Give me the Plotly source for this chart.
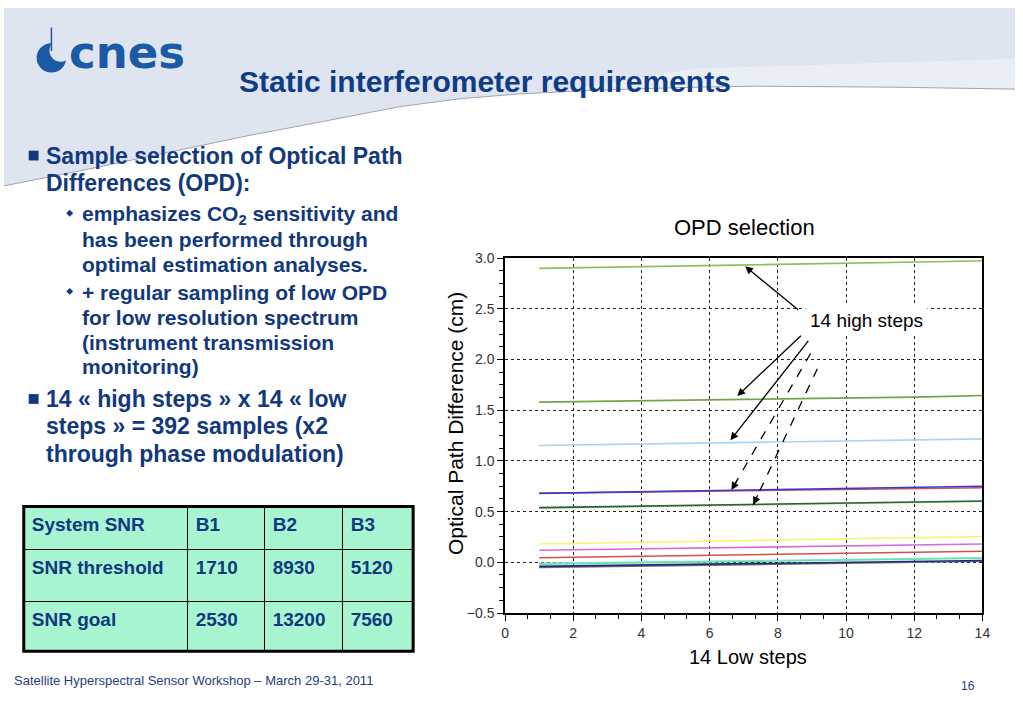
import plotly.graph_objects as go

W, H = 1023, 708

# ---------------- data ----------------
low_steps = [1, 2, 3, 4, 5, 6, 7, 8, 9, 10, 11, 12, 13, 14]

opd_high_01 = [2.900, 2.905, 2.911, 2.918, 2.922, 2.926, 2.930, 2.936, 2.941, 2.947, 2.953, 2.960, 2.967, 2.975]
opd_high_02 = [1.580, 1.584, 1.588, 1.592, 1.597, 1.601, 1.605, 1.609, 1.614, 1.619, 1.624, 1.630, 1.637, 1.645]
opd_high_03 = [1.152, 1.157, 1.161, 1.166, 1.170, 1.175, 1.179, 1.184, 1.189, 1.194, 1.199, 1.205, 1.211, 1.218]
opd_high_04 = [0.680, 0.684, 0.689, 0.694, 0.698, 0.703, 0.707, 0.711, 0.715, 0.719, 0.723, 0.727, 0.732, 0.736]
opd_high_05 = [0.682, 0.687, 0.692, 0.697, 0.702, 0.707, 0.712, 0.717, 0.722, 0.728, 0.734, 0.740, 0.745, 0.750]
opd_high_06 = [0.535, 0.540, 0.544, 0.549, 0.553, 0.558, 0.562, 0.567, 0.572, 0.577, 0.582, 0.588, 0.594, 0.600]
opd_high_07 = [0.540, 0.545, 0.549, 0.554, 0.559, 0.564, 0.568, 0.573, 0.578, 0.583, 0.588, 0.594, 0.600, 0.605]
opd_high_08 = [0.180, 0.186, 0.191, 0.197, 0.202, 0.208, 0.213, 0.219, 0.225, 0.230, 0.236, 0.242, 0.248, 0.254]
opd_high_09 = [0.119, 0.124, 0.128, 0.133, 0.138, 0.143, 0.147, 0.152, 0.156, 0.161, 0.165, 0.170, 0.175, 0.180]
opd_high_10 = [0.045, 0.050, 0.055, 0.060, 0.065, 0.070, 0.075, 0.079, 0.084, 0.089, 0.094, 0.099, 0.104, 0.109]
opd_high_11 = [-0.010, -0.006, -0.002, 0.002, 0.006, 0.010, 0.014, 0.018, 0.022, 0.026, 0.030, 0.035, 0.040, 0.045]
opd_high_12 = [-0.018, -0.014, -0.010, -0.006, -0.002, 0.002, 0.006, 0.010, 0.014, 0.018, 0.023, 0.028, 0.034, 0.040]
opd_high_13 = [-0.050, -0.046, -0.042, -0.037, -0.033, -0.028, -0.024, -0.019, -0.015, -0.010, -0.005, 0.000, 0.005, 0.010]
opd_high_14 = [-0.040, -0.036, -0.031, -0.027, -0.022, -0.018, -0.013, -0.009, -0.004, 0.000, 0.005, 0.009, 0.014, 0.018]

table_header = ["System SNR", "B1", "B2", "B3"]
snr_rows = ["SNR threshold", "SNR goal"]
snr_b1 = [1710, 2530]
snr_b2 = [8930, 13200]
snr_b3 = [5120, 7560]

# ---------------- styles ----------------
series = [opd_high_01, opd_high_02, opd_high_03, opd_high_04, opd_high_05, opd_high_06, opd_high_07,
          opd_high_08, opd_high_09, opd_high_10, opd_high_11, opd_high_12, opd_high_13, opd_high_14]
colors = ["#8cc05a", "#78a24a", "#a8d4f4", "#c8506a", "#3a3ac8", "#98e080", "#2e5e3c",
          "#f6f66a", "#d070e0", "#d05050", "#80e8f0", "#70e0a0", "#707070", "#202a80"]

NAVY = "#12387e"
HEADER = "#dee5f0"
FONT = "Liberation Sans, Arial, sans-serif"


def px(x):
    return x / W


def py(y):
    return 1 - y / H


fig = go.Figure()

for vals, col in zip(series, colors):
    fig.add_trace(go.Scatter(x=low_steps, y=vals, mode="lines",
                             line=dict(color=col, width=1.6), hoverinfo="skip",
                             showlegend=False, xaxis="x", yaxis="y"))

# table
cell_cols = [
    ["<b>%s</b>" % r for r in snr_rows],
    ["<b>%s</b>" % v for v in snr_b1],
    ["<b>%s</b>" % v for v in snr_b2],
    ["<b>%s</b>" % v for v in snr_b3],
]
fig.add_trace(go.Table(
    domain=dict(x=[px(20), px(414)], y=[py(658), py(510)]),
    columnwidth=[166, 78, 79, 71],
    header=dict(values=["<b>%s</b>" % h for h in table_header],
                fill_color="#a8f5d2", line=dict(color="black", width=1.5),
                align="left", height=43,
                font=dict(family=FONT, size=19, color=NAVY)),
    cells=dict(values=cell_cols, fill_color="#a8f5d2",
               line=dict(color="black", width=1.5), align="left", height=52,
               font=dict(family=FONT, size=19, color=NAVY)),
))

shapes = []
# header background
curve = [(0, 182), (80, 166), (160, 149), (250, 130), (313, 118), (400, 101), (460, 93),
         (520, 88), (600, 84), (700, 81), (760, 80), (900, 81), (1023, 83)]
top = "M %.5f,%.5f L %.5f,%.5f " % (px(0), py(0), px(1023), py(0))
path = top + " ".join("L %.5f,%.5f" % (px(x), py(y)) for x, y in reversed(curve)) + " Z"
shapes.append(dict(type="path", xref="paper", yref="paper", path=path,
                   fillcolor=HEADER, line=dict(width=0), layer="below"))
# lighter band near the title line
band = [(560, 86), (700, 62), (1023, 52), (1023, 83), (760, 80), (600, 84)]
shapes.append(dict(type="path", xref="paper", yref="paper",
                   path="M " + " L ".join("%.5f,%.5f" % (px(x), py(y)) for x, y in band) + " Z",
                   fillcolor="#eaeef5", line=dict(width=0), layer="below"))
line_path = "M " + " L ".join("%.5f,%.5f" % (px(x), py(y)) for x, y in curve)
shapes.append(dict(type="path", xref="paper", yref="paper", path=line_path,
                   line=dict(color="#a0a6b0", width=1), layer="below"))

# logo crescent
shapes.append(dict(type="circle", xref="paper", yref="paper",
                   x0=px(33), x1=px(63), y0=py(66), y1=py(36),
                   fillcolor="#1b5aa5", line=dict(width=0), layer="above"))
shapes.append(dict(type="circle", xref="paper", yref="paper",
                   x0=px(46), x1=px(69), y0=py(55), y1=py(32),
                   fillcolor=HEADER, line=dict(width=0), layer="above"))
shapes.append(dict(type="line", xref="paper", yref="paper",
                   x0=px(48), x1=px(48), y0=py(20), y1=py(44),
                   line=dict(color="#1b5aa5", width=1.5), layer="above"))

# bullets
for yc in (151, 400):
    shapes.append(dict(type="rect", xref="paper", yref="paper",
                       x0=px(25), x1=px(35), y0=py(yc + 5), y1=py(yc - 5),
                       fillcolor=NAVY, line=dict(width=0)))
for yc in (210, 290):
    shapes.append(dict(type="path", xref="paper", yref="paper",
                       path="M %.5f,%.5f L %.5f,%.5f L %.5f,%.5f L %.5f,%.5f Z" % (
                           px(63), py(yc), px(66.5), py(yc - 3.5), px(70), py(yc), px(66.5), py(yc + 3.5)),
                       fillcolor=NAVY, line=dict(width=0)))

# table outer border
shapes.append(dict(type="rect", xref="paper", yref="paper",
                   x0=px(20), x1=px(414), y0=py(658), y1=py(510),
                   line=dict(color="black", width=3), layer="above"))

# dashed arrow bodies
dashed = [((8.96, 2.06), (6.64, 0.714)), ((9.16, 1.91), (7.28, 0.569))]
for (tx, ty), (hx, hy) in dashed:
    shapes.append(dict(type="line", xref="x", yref="y", x0=tx, y0=ty, x1=hx, y1=hy,
                       line=dict(color="black", width=1.3, dash="dash"), layer="above"))

annotations = []


def text(t, x, y, size, color=NAVY, xanchor="left", bold=False, family=FONT, **kw):
    if bold:
        t = "<b>%s</b>" % t
    annotations.append(dict(text=t, x=px(x), y=py(y), xref="paper", yref="paper",
                            xanchor=xanchor, yanchor="middle", showarrow=False,
                            font=dict(family=family, size=size, color=color), **kw))


text("cnes", 64, 46, 45, color="#1b5aa5", bold=True, family="DejaVu Sans, sans-serif")
text("Static interferometer requirements", 236, 75, 30, color="#0f3c86", bold=True)

text("Sample selection of Optical Path", 40, 151, 23, bold=True)
text("Differences (OPD):", 40, 179, 23, bold=True)
text("emphasizes CO<sub>2</sub> sensitivity and", 77, 212, 21, bold=True)
text("has been performed through", 77, 237, 21, bold=True)
text("optimal estimation analyses.", 77, 262, 21, bold=True)
text("+ regular sampling of low OPD", 77, 291, 21, bold=True)
text("for low resolution spectrum", 77, 317, 21, bold=True)
text("(instrument transmission", 77, 342, 21, bold=True)
text("monitoring)", 77, 367, 21, bold=True)
text("14 « high steps » x 14 « low", 40, 400, 23, bold=True)
text("steps » = 392 samples (x2", 40, 428, 23, bold=True)
text("through phase modulation)", 40, 456, 23, bold=True)

text("Satellite Hyperspectral Sensor Workshop – March 29-31, 2011", 8, 688, 13,
     color="#1f3d7a", family="Liberation Sans Narrow, Arial Narrow, sans-serif")
text("16", 975, 694, 12, color="#1f3d7a", xanchor="center",
     family="Liberation Sans Narrow, Arial Narrow, sans-serif")

text("OPD selection", 749, 225, 22, color="black", xanchor="center")
text("14 Low steps", 753, 664, 20, color="black", xanchor="center")
annotations.append(dict(text="Optical Path Difference (cm)", x=px(457), y=py(425),
                        xref="paper", yref="paper", xanchor="center", yanchor="middle",
                        textangle=-90, showarrow=False,
                        font=dict(family=FONT, size=21, color="black")))
annotations.append(dict(text="14 high steps", x=px(873), y=py(320), xref="paper", yref="paper",
                        xanchor="center", yanchor="middle", showarrow=False,
                        bgcolor="white", borderpad=4,
                        font=dict(family=FONT, size=19, color="black")))

# solid arrows
solid = [((8.64, 2.48), (7.04, 2.92)), ((8.72, 2.25), (6.81, 1.64)), ((8.93, 2.20), (6.61, 1.205))]
for (tx, ty), (hx, hy) in solid:
    annotations.append(dict(x=hx, y=hy, ax=tx, ay=ty, xref="x", yref="y", axref="x", ayref="y",
                            text="", showarrow=True, arrowhead=2, arrowsize=1.2,
                            arrowwidth=1.3, arrowcolor="black"))
for (tx, ty), (hx, hy) in dashed:
    annotations.append(dict(x=hx, y=hy, ax=hx + 0.08 * (tx - hx), ay=hy + 0.08 * (ty - hy),
                            xref="x", yref="y", axref="x", ayref="y",
                            text="", showarrow=True, arrowhead=2, arrowsize=1.2,
                            arrowwidth=1.3, arrowcolor="black"))

axis_common = dict(showline=True, linecolor="black", linewidth=1.5, mirror=True,
                   ticks="outside", ticklen=6, tickcolor="black", tickwidth=1,
                   showgrid=True, gridcolor="#222222", griddash="dot", gridwidth=1,
                   zeroline=False, tickfont=dict(family=FONT, size=14, color="#333333"))

fig.update_layout(
    width=W, height=H,
    margin=dict(l=0, r=0, t=0, b=0),
    paper_bgcolor="white", plot_bgcolor="white",
    showlegend=False,
    xaxis=dict(domain=[px(507), px(990)], range=[0, 14], tick0=0, dtick=2,
               minor=dict(dtick=2 / 3, tick0=0, ticks="outside", ticklen=4, tickcolor="black", showgrid=False),
               **axis_common),
    yaxis=dict(domain=[py(619), py(256)], range=[-0.5, 3.0], tick0=0, dtick=0.5, tickformat=".1f",
               minor=dict(dtick=0.125, tick0=0, ticks="outside", ticklen=4, tickcolor="black", showgrid=False),
               **axis_common),
    shapes=shapes,
    annotations=annotations,
)

fig.write_html("out.html", config={"displayModeBar": False},
               post_script="document.body.style.margin='0';document.documentElement.style.overflow='hidden';")
